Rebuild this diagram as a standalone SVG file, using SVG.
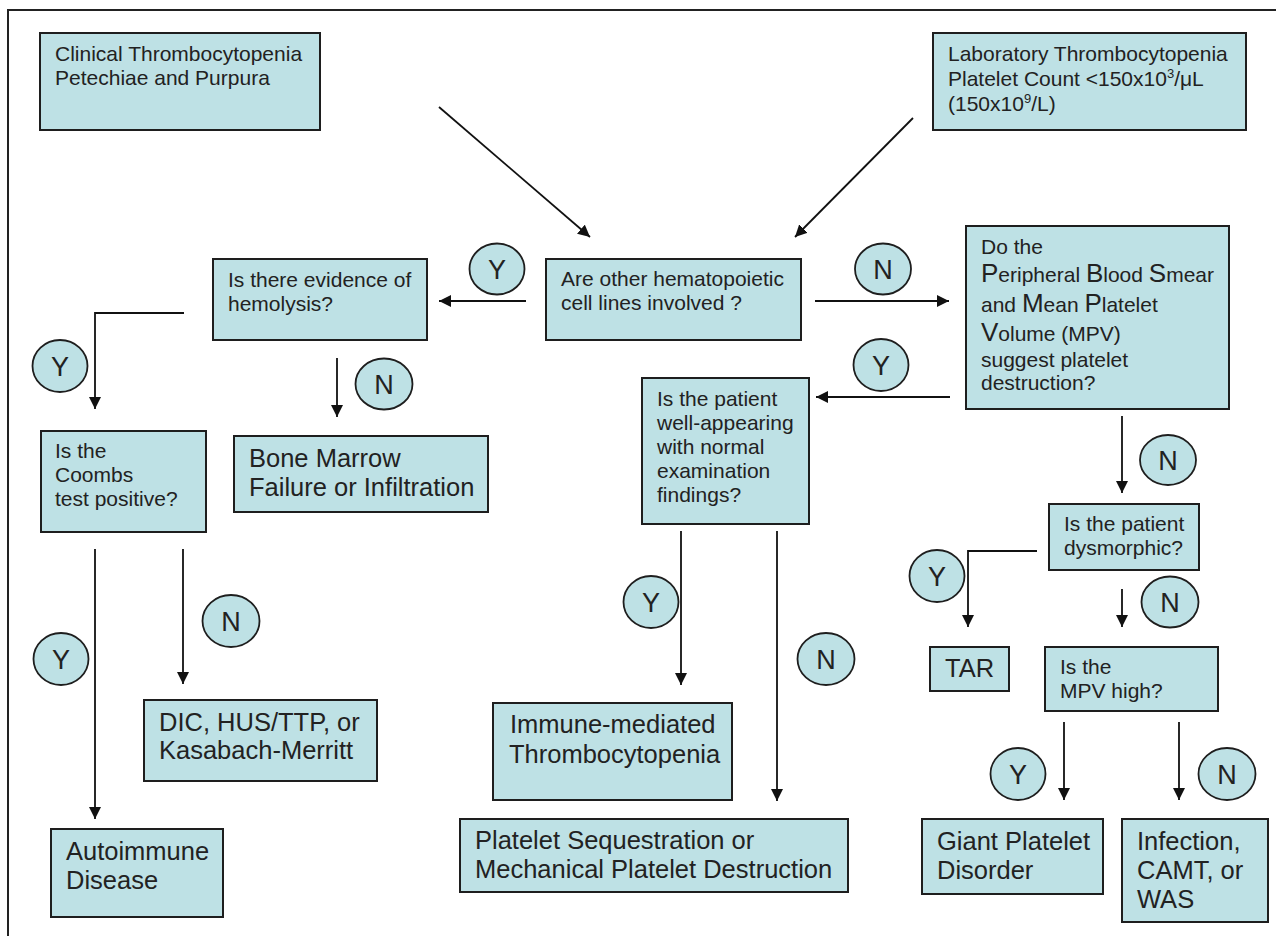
<svg xmlns="http://www.w3.org/2000/svg" width="1276" height="936" viewBox="0 0 1276 936">
<defs>
<marker id="ah" markerUnits="userSpaceOnUse" markerWidth="13" markerHeight="12" refX="12" refY="6" orient="auto">
<path d="M0,0 L12,6 L0,12 z" fill="#111"/>
</marker>
<style>
.box{fill:#bee1e5;stroke:#1e1e1e;stroke-width:2}
.lbl{fill:#bee1e5;stroke:#1e1e1e;stroke-width:1.8}
.t{font-family:"Liberation Sans",Arial,sans-serif;font-size:21px;fill:#222}
.tl{font-family:"Liberation Sans",Arial,sans-serif;font-size:25.5px;fill:#222}
.tc{font-family:"Liberation Sans",Arial,sans-serif;font-size:27px;fill:#222;text-anchor:middle}
.big{font-size:26px}
.c{fill:none;stroke:#111;stroke-width:1.8}
.ca{fill:none;stroke:#111;stroke-width:1.8;marker-end:url(#ah)}
</style>
</defs>
<rect x="0" y="0" width="1276" height="936" fill="#fff"/>
<path d="M8,936 V10 H1276" fill="none" stroke="#222" stroke-width="2"/>

<g id="connectors">
<line class="ca" x1="439" y1="107" x2="590" y2="237"/>
<line class="ca" x1="913" y1="118" x2="795" y2="237"/>
<line class="ca" x1="526" y1="301" x2="439" y2="301"/>
<line class="ca" x1="815" y1="301" x2="949" y2="301"/>
<polyline class="ca" points="184,313 95,313 95,409"/>
<line class="ca" x1="337" y1="358" x2="337" y2="417"/>
<line class="ca" x1="950" y1="397" x2="816" y2="397"/>
<line class="ca" x1="1122" y1="416" x2="1122" y2="493"/>
<line class="ca" x1="95" y1="549" x2="95" y2="819"/>
<line class="ca" x1="183" y1="549" x2="183" y2="684"/>
<line class="ca" x1="681" y1="531" x2="681" y2="685"/>
<line class="ca" x1="777" y1="531" x2="777" y2="801"/>
<polyline class="ca" points="1037,551 968,551 968,627"/>
<line class="ca" x1="1122" y1="589" x2="1122" y2="627"/>
<line class="ca" x1="1064" y1="722" x2="1064" y2="800"/>
<line class="ca" x1="1179" y1="722" x2="1179" y2="800"/>
</g>

<g id="labels">
<g id="lbl-y1"><ellipse class="lbl" cx="497" cy="269" rx="27.5" ry="25.5"/><text class="tc" x="497" y="279">Y</text></g>
<g id="lbl-n1"><ellipse class="lbl" cx="883" cy="269" rx="28" ry="25.5"/><text class="tc" x="883" y="279">N</text></g>
<g id="lbl-y2"><ellipse class="lbl" cx="60" cy="366" rx="27.5" ry="26"/><text class="tc" x="60" y="376">Y</text></g>
<g id="lbl-n2"><ellipse class="lbl" cx="384" cy="384" rx="28.5" ry="25.5"/><text class="tc" x="384" y="394">N</text></g>
<g id="lbl-y3"><ellipse class="lbl" cx="881" cy="365" rx="27.5" ry="26"/><text class="tc" x="881" y="375">Y</text></g>
<g id="lbl-n3"><ellipse class="lbl" cx="1168" cy="460" rx="28" ry="25"/><text class="tc" x="1168" y="470">N</text></g>
<g id="lbl-y4"><ellipse class="lbl" cx="61" cy="659" rx="27.5" ry="26"/><text class="tc" x="61" y="669">Y</text></g>
<g id="lbl-n4"><ellipse class="lbl" cx="231" cy="621" rx="28.5" ry="26"/><text class="tc" x="231" y="631">N</text></g>
<g id="lbl-y5"><ellipse class="lbl" cx="651" cy="602" rx="27.5" ry="26"/><text class="tc" x="651" y="612">Y</text></g>
<g id="lbl-n5"><ellipse class="lbl" cx="826" cy="659" rx="28.5" ry="26"/><text class="tc" x="826" y="669">N</text></g>
<g id="lbl-y6"><ellipse class="lbl" cx="937" cy="576" rx="27.5" ry="26"/><text class="tc" x="937" y="586">Y</text></g>
<g id="lbl-n6"><ellipse class="lbl" cx="1170" cy="602" rx="28.5" ry="25.5"/><text class="tc" x="1170" y="612">N</text></g>
<g id="lbl-y7"><ellipse class="lbl" cx="1018" cy="774" rx="27.5" ry="26"/><text class="tc" x="1018" y="784">Y</text></g>
<g id="lbl-n7"><ellipse class="lbl" cx="1227" cy="774" rx="28.5" ry="26"/><text class="tc" x="1227" y="784">N</text></g>
</g>

<g id="clinical">
<rect class="box" x="40" y="33" width="280" height="97"/>
<text class="t" x="55" y="61">Clinical Thrombocytopenia</text>
<text class="t" x="55" y="85">Petechiae and Purpura</text>
</g>

<g id="laboratory">
<rect class="box" x="933" y="33" width="313" height="97"/>
<text class="t" x="948" y="61">Laboratory Thrombocytopenia</text>
<text class="t" x="948" y="86">Platelet Count &lt;150x10<tspan font-size="13" dy="-8">3</tspan><tspan dy="8">/μL</tspan></text>
<text class="t" x="948" y="111">(150x10<tspan font-size="13" dy="-8">9</tspan><tspan dy="8">/L)</tspan></text>
</g>

<g id="other-lines">
<rect class="box" x="546" y="259" width="255" height="81"/>
<text class="t" x="561" y="286">Are other hematopoietic</text>
<text class="t" x="561" y="310">cell lines involved ?</text>
</g>

<g id="hemolysis">
<rect class="box" x="213" y="259" width="214" height="81"/>
<text class="t" x="228" y="287">Is there evidence of</text>
<text class="t" x="228" y="311">hemolysis?</text>
</g>

<g id="smear-mpv">
<rect class="box" x="966" y="226" width="263" height="183"/>
<text class="t" x="981" y="254">Do the</text>
<text class="t" x="981" y="282"><tspan class="big">P</tspan>eripheral <tspan class="big">B</tspan>lood <tspan class="big">S</tspan>mear</text>
<text class="t" x="981" y="312">and <tspan class="big">M</tspan>ean <tspan class="big">P</tspan>latelet</text>
<text class="t" x="981" y="341"><tspan class="big">V</tspan>olume (MPV)</text>
<text class="t" x="981" y="367">suggest platelet</text>
<text class="t" x="981" y="390">destruction?</text>
</g>

<g id="well-appearing">
<rect class="box" x="642" y="378" width="167" height="146"/>
<text class="t" x="657" y="406">Is the patient</text>
<text class="t" x="657" y="430">well-appearing</text>
<text class="t" x="657" y="454">with normal</text>
<text class="t" x="657" y="478">examination</text>
<text class="t" x="657" y="502">findings?</text>
</g>

<g id="coombs">
<rect class="box" x="41" y="431" width="165" height="101"/>
<text class="t" x="55" y="458">Is the</text>
<text class="t" x="55" y="482">Coombs</text>
<text class="t" x="55" y="506">test positive?</text>
</g>

<g id="bone-marrow">
<rect class="box" x="234" y="436" width="254" height="76"/>
<text class="tl" x="249" y="467">Bone Marrow</text>
<text class="tl" x="249" y="496">Failure or Infiltration</text>
</g>

<g id="dysmorphic">
<rect class="box" x="1049" y="504" width="150" height="66"/>
<text class="t" x="1064" y="531">Is the patient</text>
<text class="t" x="1064" y="555">dysmorphic?</text>
</g>

<g id="tar">
<rect class="box" x="930" y="647" width="79" height="44"/>
<text class="tl" x="945" y="677">TAR</text>
</g>

<g id="mpv-high">
<rect class="box" x="1045" y="647" width="173" height="64"/>
<text class="t" x="1060" y="674">Is the</text>
<text class="t" x="1060" y="698">MPV high?</text>
</g>

<g id="dic">
<rect class="box" x="144" y="700" width="233" height="81"/>
<text class="tl" x="159" y="731">DIC, HUS/TTP, or</text>
<text class="tl" x="159" y="759">Kasabach-Merritt</text>
</g>

<g id="autoimmune">
<rect class="box" x="51" y="829" width="172" height="88"/>
<text class="tl" x="66" y="860">Autoimmune</text>
<text class="tl" x="66" y="889">Disease</text>
</g>

<g id="immune-mediated">
<rect class="box" x="493" y="703" width="239" height="97"/>
<text class="tl" x="510" y="733">Immune-mediated</text>
<text class="tl" x="509" y="763">Thrombocytopenia</text>
</g>

<g id="sequestration">
<rect class="box" x="460" y="819" width="388" height="73"/>
<text class="tl" x="475" y="849">Platelet Sequestration or</text>
<text class="tl" x="475" y="878">Mechanical Platelet Destruction</text>
</g>

<g id="giant-platelet">
<rect class="box" x="922" y="819" width="181" height="75"/>
<text class="tl" x="937" y="850">Giant Platelet</text>
<text class="tl" x="937" y="879">Disorder</text>
</g>

<g id="infection">
<rect class="box" x="1122" y="819" width="146" height="103"/>
<text class="tl" x="1137" y="850">Infection,</text>
<text class="tl" x="1137" y="879">CAMT, or</text>
<text class="tl" x="1137" y="908">WAS</text>
</g>
</svg>
